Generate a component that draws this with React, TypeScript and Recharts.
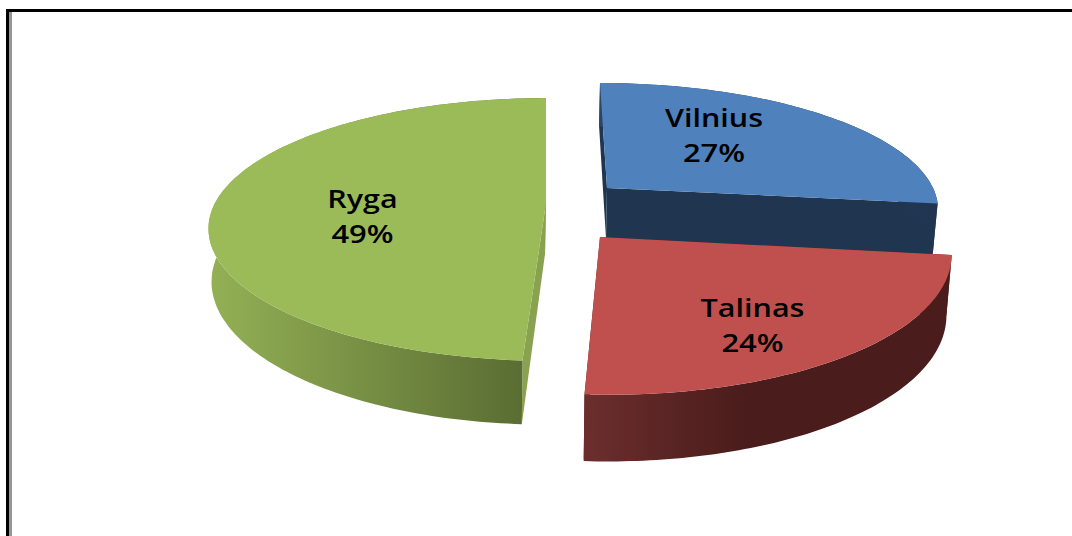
import { PieChart, Pie } from 'recharts'

const cities = ['Vilnius', 'Talinas', 'Ryga']
const shares = [27, 24, 49]

const pieData = cities.map((name, i) => ({ name, value: shares[i] }))

// how each exploded slice sits on the page, with its own perspective
const slices: Record<string, any> = {
  Vilnius: { ox: 607, oy: 188, rx: 326, ry: 120.75, tilt: 0.15, depth: 50, skewBack: 8, skewFront: 8, face: '#4f81bd', cut: '#1f3550', wallFrom: '#2a4669', wallTo: '#1f3550', label: [714, 127, 162] },
  Talinas: { ox: 600, oy: 237, rx: 349, ry: 142, tilt: 0.1, depth: 60, skewBack: 11, skewFront: 8, face: '#c0504d', cut: '#4b1c1c', wallFrom: '#6b2e2d', wallTo: '#4a1c1b', label: [752.5, 317, 352] },
  Ryga: { ox: 546, oy: 203, rx: 331, ry: 126, tilt: 0.2015, depth: 51, skewBack: 0, skewFront: 2, face: '#9bbb59', cut: '#89a24f', wallFrom: '#93b055', wallTo: '#566830', label: [362.5, 208, 243] },
}

const project = (g: any, deg: number, r: number, bottom: boolean) => {
  const t = (deg * Math.PI) / 180
  const s = Math.sin(t) * r
  const c = Math.cos(t) * r
  const w = 1 + g.tilt * c
  const skew = c > 0 ? g.skewBack : g.skewFront
  const x = g.ox + (g.rx * s) / w - (skew * c) / w
  const y = g.oy - (g.ry * c) / w
  if (!bottom) return [x, y]
  return [g.ox + (x - g.ox) * 0.988 - 1, y + g.depth / w]
}

const arc = (g: any, from: number, to: number, bottom: boolean) => {
  const pts = []
  const n = Math.max(2, Math.ceil(Math.abs(to - from)))
  for (let i = 0; i <= n; i++) {
    pts.push(project(g, from + ((to - from) * i) / n, 1, bottom))
  }
  return pts
}

const toPath = (pts: number[][]) =>
  'M' + pts.map((p) => p[0].toFixed(1) + ' ' + p[1].toFixed(1)).join('L') + 'Z'

// recharts angles run counter-clockwise from east, the disk from north clockwise
function SliceShape(props: any) {
  const g = slices[props.name]
  const from = 90 - props.startAngle
  const to = 90 - props.endAngle
  const apexTop = project(g, 0, 0, false)
  const apexBottom = project(g, 0, 0, true)
  const top = arc(g, from, to, false)
  const bottom = arc(g, from, to, true)
  const gradId = 'wall-' + props.name
  const xs = bottom.map((p) => p[0])
  return (
    <g>
      <defs>
        <linearGradient id={gradId} gradientUnits="userSpaceOnUse" x1={Math.min(...xs)} x2={Math.max(...xs)} y1={0} y2={0}>
          <stop offset="0" stopColor={g.wallFrom} />
          <stop offset={props.name === 'Talinas' ? 0.45 : 1} stopColor={g.wallTo} />
          <stop offset="1" stopColor={g.wallTo} />
        </linearGradient>
      </defs>
      <path d={toPath([apexTop, top[0], bottom[0], apexBottom])} fill={g.cut} />
      <path d={toPath([apexTop, top[top.length - 1], bottom[bottom.length - 1], apexBottom])} fill={g.cut} />
      <path d={toPath([...top, ...[...bottom].reverse()])} fill={`url(#${gradId})`} />
      <path d={toPath([apexTop, ...top])} fill={g.face} />
    </g>
  )
}

// the reference is stretched sideways, so the text is too
function SliceLabel(props: any) {
  const [x, y1, y2] = slices[props.name].label
  const style = { fontFamily: '"Open Sans", sans-serif', fontSize: 25, fontWeight: 600 }
  return (
    <g>
      <text transform={`translate(${x} ${y1}) scale(1.22 1)`} textAnchor="middle" fill="#000" style={style}>{props.name}</text>
      <text transform={`translate(${x} ${y2}) scale(1.24 1)`} textAnchor="middle" fill="#000" style={style}>{Math.round(props.percent * 100)}%</text>
    </g>
  )
}

export default function App() {
  return (
    <div style={{ position: 'absolute', left: 0, top: 0, width: 1072, height: 536, background: '#fff', overflow: 'hidden' }}>
      <div style={{ position: 'absolute', left: 6, top: 9, right: 0, height: 3, background: '#000' }} />
      <div style={{ position: 'absolute', left: 6, top: 9, bottom: 0, width: 3, background: '#000' }} />
      <div style={{ position: 'absolute', left: 9, top: 12, bottom: 0, width: 3, background: '#969696' }} />
      <PieChart width={1072} height={536} margin={{ top: 0, right: 0, bottom: 0, left: 0 }} style={{ position: 'absolute', left: 0, top: 0 }}>
        <Pie
          data={pieData}
          dataKey="value"
          nameKey="name"
          cx={536}
          cy={268}
          outerRadius={200}
          startAngle={90}
          endAngle={-270}
          stroke="none"
          shape={SliceShape}
          label={SliceLabel}
          labelLine={false}
          isAnimationActive={false}
        />
      </PieChart>
    </div>
  )
}
